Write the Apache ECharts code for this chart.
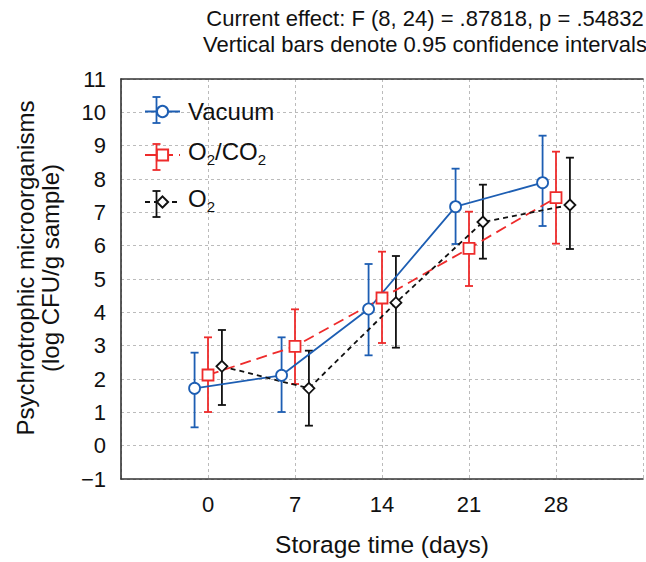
<!DOCTYPE html>
<html>
<head>
<meta charset="utf-8">
<script src="https://cdn.jsdelivr.net/npm/echarts@6/dist/echarts.min.js"></script>
<style>html,body{margin:0;padding:0;background:#fff;}#main{width:646px;height:562px;}</style>
</head>
<body>
<div id="main"></div>
<script>
// ---- data ----
const days = [0, 7, 14, 21, 28];
const yTicks = [-1, 0, 1, 2, 3, 4, 5, 6, 7, 8, 9, 10, 11];
const vacuumMean = [1.72, 2.11, 4.10, 7.17, 7.89];
const vacuumLow  = [0.55, 1.01, 2.71, 6.05, 6.59];
const vacuumHigh = [2.79, 3.25, 5.45, 8.31, 9.30];
const o2co2Mean = [2.12, 2.98, 4.43, 5.92, 7.44];
const o2co2Low  = [1.01, 1.85, 3.08, 4.79, 6.06];
const o2co2High = [3.25, 4.09, 5.82, 7.02, 8.82];
const o2Mean = [2.38, 1.72, 4.29, 6.71, 7.22];
const o2Low  = [1.22, 0.60, 2.94, 5.61, 5.90];
const o2High = [3.47, 2.85, 5.69, 7.83, 8.64];
const seriesNames = ['Vacuum', 'O2/CO2', 'O2'];

// ---- styling ----
const FONT = 'Liberation Sans';
const BLUE = '#1d5eb3', RED = '#ee2b2b', BLACK = '#111111';
const OFFSETS = [-1.08, 0, 1.12]; // horizontal dodge (days) per group

function pts(mean, k) { return days.map((d, i) => [d + OFFSETS[k], mean[i]]); }
function bars(low, high, k) { return days.map((d, i) => [d + OFFSETS[k], low[i], high[i]]); }

function errRender(color) {
  return function (params, api) {
    const x = api.value(0);
    const lo = api.coord([x, api.value(1)]);
    const hi = api.coord([x, api.value(2)]);
    const c = 4;
    const st = { stroke: color, lineWidth: 1.8 };
    return { type: 'group', children: [
      { type: 'line', shape: { x1: lo[0], y1: lo[1], x2: hi[0], y2: hi[1] }, style: st },
      { type: 'line', shape: { x1: lo[0] - c, y1: lo[1], x2: lo[0] + c, y2: lo[1] }, style: st },
      { type: 'line', shape: { x1: hi[0] - c, y1: hi[1], x2: hi[0] + c, y2: hi[1] }, style: st }
    ]};
  };
}

const groups = [
  { name: seriesNames[0], color: BLUE, mean: vacuumMean, low: vacuumLow, high: vacuumHigh, symbol: 'circle', size: 11, dash: 'solid' },
  { name: seriesNames[1], color: RED, mean: o2co2Mean, low: o2co2Low, high: o2co2High, symbol: 'rect', size: 11, dash: [11, 6] },
  { name: seriesNames[2], color: BLACK, mean: o2Mean, low: o2Low, high: o2High, symbol: 'diamond', size: 11, dash: [5, 4] }
];

const series = [];
groups.forEach((g, k) => {
  series.push({
    type: 'custom', name: g.name + ' CI', silent: true, z: 2,
    renderItem: errRender(g.color),
    data: bars(g.low, g.high, k)
  });
});
groups.forEach((g, k) => {
  series.push({
    type: 'line', name: g.name, z: 3,
    data: pts(g.mean, k),
    symbol: g.symbol, symbolSize: g.size, showSymbol: true,
    lineStyle: { color: g.color, width: 1.8, type: g.dash },
    itemStyle: { color: '#ffffff', borderColor: g.color, borderWidth: 1.8 },
    emphasis: { disabled: true }
  });
});

// legend error-bar whiskers
const LEG_X = 156.5, LEG_Y = [110, 157, 204];
const legendGraphics = [];
groups.forEach((g, k) => {
  const y = LEG_Y[k];
  const st = { stroke: g.color, lineWidth: 1.8 };
  legendGraphics.push(
    { type: 'line', shape: { x1: LEG_X, y1: y - 13, x2: LEG_X, y2: y + 13 }, style: st, z: 1 },
    { type: 'line', shape: { x1: LEG_X - 4, y1: y - 13, x2: LEG_X + 4, y2: y - 13 }, style: st, z: 1 },
    { type: 'line', shape: { x1: LEG_X - 4, y1: y + 13, x2: LEG_X + 4, y2: y + 13 }, style: st, z: 1 }
  );
});

const axisLineStyle = { color: '#333', width: 1.6 };
const gridLineStyle = { color: '#bbbbbb', type: [3, 3], width: 1 };

const chart = echarts.init(document.getElementById('main'), null, { renderer: 'svg' });
chart.setOption({
  animation: false,
  backgroundColor: '#ffffff',
  textStyle: { fontFamily: FONT },
  title: {
    text: 'Current effect: F (8, 24) = .87818, p = .54832\nVertical bars denote 0.95 confidence intervals',
    left: 420, top: 0, textAlign: 'center',
    textStyle: { fontFamily: FONT, fontSize: 22, fontWeight: 'normal', color: '#111', lineHeight: 26 }
  },
  grid: { left: 121, right: -1, top: 79, bottom: 83, show: false },
  legend: {
    data: seriesNames,
    orient: 'vertical', left: 139, top: 94.5,
    itemWidth: 35, itemHeight: 14, itemGap: 16,
    formatter: function (n) {
      if (n === 'O2/CO2') return '{t|O}{s|2}{t|/CO}{s|2}';
      if (n === 'O2') return '{t|O}{s|2}';
      return '{v|' + n + '}';
    },
    textStyle: {
      fontFamily: FONT, fontSize: 24, color: '#111', padding: [0, 0, 0, 3],
      rich: {
        v: { fontFamily: FONT, fontSize: 24, color: '#111', lineHeight: 31 },
        t: { fontFamily: FONT, fontSize: 24, color: '#111', lineHeight: 24, padding: [0, 0, 7, 0] },
        s: { fontFamily: FONT, fontSize: 15, color: '#111', lineHeight: 15, verticalAlign: 'bottom' }
      }
    },
    selectedMode: false
  },
  xAxis: [{
    type: 'value', min: -7, max: 35, interval: 7,
    name: 'Storage time (days)', nameLocation: 'middle', nameGap: 53,
    nameTextStyle: { fontFamily: FONT, fontSize: 24.5, color: '#111' },
    axisLine: { show: true, onZero: false, lineStyle: axisLineStyle },
    axisTick: { show: false },
    axisLabel: { fontFamily: FONT, fontSize: 22, color: '#111', margin: 14,
      formatter: function (v) { return days.indexOf(v) >= 0 ? String(v) : ''; } },
    splitLine: { show: true, lineStyle: gridLineStyle }
  }, {
    type: 'value', min: -7, max: 35, interval: 7, position: 'top',
    axisLine: { show: true, onZero: false, lineStyle: axisLineStyle },
    axisTick: { show: false }, axisLabel: { show: false }, splitLine: { show: false }
  }],
  yAxis: {
    type: 'value', min: yTicks[0], max: yTicks[yTicks.length - 1], interval: 1,
    name: 'Psychrotrophic microorganisms\n(log CFU/g sample)', nameLocation: 'middle', nameGap: 58,
    nameTextStyle: { fontFamily: FONT, fontSize: 24, color: '#111', lineHeight: 25, padding: [0, 0, 0, 22] },
    axisLine: { show: true, onZero: false, lineStyle: axisLineStyle },
    axisTick: { show: false },
    axisLabel: { fontFamily: FONT, fontSize: 22, color: '#111', margin: 15,
      formatter: function (v) { return v < 0 ? '\u2212' + Math.abs(v) : String(v); } },
    splitLine: { show: true, lineStyle: gridLineStyle }
  },
  graphic: legendGraphics,
  series: series
});
</script>
</body>
</html>
